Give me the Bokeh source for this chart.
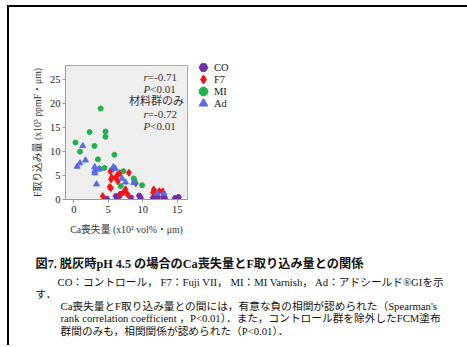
from bokeh.plotting import figure
from bokeh.models import Legend, LegendItem, Label, Range1d
from bokeh.layouts import column, row
from bokeh.embed import file_html
from bokeh.resources import INLINE

# ---------------- data ----------------
groups = ["CO", "F7", "MI", "Ad"]

co_x = [4.8, 6.1, 6.5, 6.8, 8.3, 9.5, 9.7, 11.5, 11.8, 12.2, 13.0, 13.2, 14.7, 15.2]
co_y = [0.15, 0.7, 0.6, 1.2, 0.4, 0.8, 0.3, 0.35, 0.4, 0.4, 0.55, 0.3, 0.3, 0.5]

f7_x = [4.2, 5.7, 5.3, 5.4, 5.5, 6.1, 6.3, 6.7, 8.0, 6.4, 5.2, 5.4, 6.8, 7.3, 7.5, 7.8,
        9.0, 11.6, 11.7, 12.4, 12.9, 11.5]
f7_y = [0.7, 6.4, 5.9, 4.2, 4.6, 4.5, 5.1, 5.5, 5.6, 3.8, 2.6, 2.4, 1.0, 1.6, 2.1, 1.1,
        3.4, 2.1, 1.8, 1.7, 1.7, 1.5]

mi_x = [3.9, 2.3, 4.6, 4.6, 0.25, 3.0, 0.9, 5.9, 3.5, 4.45, 3.8, 7.2, 8.7, 8.8, 9.9, 6.8]
mi_y = [19.0, 14.1, 14.2, 13.1, 11.9, 11.2, 10.0, 9.35, 8.4, 6.6, 6.4, 5.9, 4.4, 3.9, 3.0, 2.8]

ad_x = [0.5, 1.3, 0.9, 1.7, 3.05, 3.05, 3.05, 3.7, 3.3, 5.75, 6.05, 7.0, 7.5, 8.7, 12.1, 13.1]
ad_y = [6.9, 11.2, 7.6, 8.2, 6.8, 6.0, 5.5, 6.4, 3.2, 6.8, 6.4, 4.4, 3.6, 3.5, 1.3, 1.25]

x_ticks = [0, 5, 10, 15]
y_ticks = [0, 5, 10, 15, 20, 25]

stats_all = ["-0.71", "<0.01"]
stats_mat = ["-0.72", "<0.01"]

SERIF = "'Liberation Serif', 'Noto Sans CJK JP'"
JP = "'Liberation Serif', 'Noto Sans CJK JP'"

series = [
    ("CO", co_x, co_y, "hex", 5.5, "#7030A0"),
    ("F7", f7_x, f7_y, "diamond", 7, "#FF1010"),
    ("MI", mi_x, mi_y, "circle", 5, "#22B14C"),
    ("Ad", ad_x, ad_y, "triangle", 6, "#5A6BEA"),
]

# ---------------- scatter figure ----------------
p = figure(width=181, height=238, x_range=Range1d(-1.2, 16.5), y_range=Range1d(0, 28),
           output_backend="svg", toolbar_location=None, frame_align=False,
           min_border_left=56, min_border_right=3, min_border_top=58, min_border_bottom=46)
p.background_fill_color = "#EFEFEF"
p.border_fill_color = "white"
p.outline_line_color = "#AAAAAA"
p.grid.visible = False

for name, xs, ys, mk, sz, col in series:
    p.scatter(xs, ys, marker=mk, size=sz, color=col)

p.xaxis.ticker = x_ticks
p.yaxis.ticker = y_ticks
for ax in (p.xaxis[0], p.yaxis[0]):
    ax.axis_line_color = "#999999"
    ax.major_tick_line_color = "#999999"
    ax.major_tick_out = 3
    ax.major_tick_in = 0
    ax.minor_tick_out = 0
    ax.minor_tick_in = 0
    ax.major_label_text_font = SERIF
    ax.major_label_text_font_size = "10.5px"
    ax.major_label_text_color = "#222222"
    ax.axis_label_text_font = JP
    ax.axis_label_text_font_size = "9.8px"
    ax.axis_label_text_font_style = "normal"
    ax.axis_label_text_color = "#333333"
p.xaxis.major_label_standoff = 3
p.yaxis.major_label_standoff = 2
p.xaxis.axis_label = "Ca喪失量 (x10² vol%・μm)"
p.yaxis.axis_label = "F取り込み量 (x10³ ppmF・μm)"
p.xaxis.axis_label_standoff = 8
p.yaxis.axis_label_standoff = 4

def lab(x, y, text, align="left", style="normal"):
    p.add_layout(Label(x=x, y=y, text=text, text_align=align, text_baseline="middle",
                       text_font=SERIF, text_font_size="11px", text_font_style=style,
                       text_color="#333333"))

lab(10.74, 25.6, "r", "right", "italic")
lab(10.74, 25.6, "=" + stats_all[0])
lab(11.09, 23.1, "P", "right", "italic")
lab(11.09, 23.1, stats_all[1])
lab(12.0, 20.5, "材料群のみ", "center")
lab(10.74, 17.9, "r", "right", "italic")
lab(10.74, 17.9, "=" + stats_mat[0])
lab(11.09, 15.3, "P", "right", "italic")
lab(11.09, 15.3, stats_mat[1])

# ---------------- legend figure (same series, data kept out of its view) ----------------
lg = figure(width=277, height=238, x_range=Range1d(100, 200), y_range=Range1d(100, 200),
            output_backend="svg", toolbar_location=None, frame_align=False,
            x_axis_type=None, y_axis_type=None, min_border=0)
lg.grid.visible = False
lg.outline_line_color = None
lg.background_fill_color = "white"
lg.border_fill_color = "white"
for i, (name, xs, ys, mk, sz, col) in enumerate(series):
    r = lg.scatter(xs, ys, marker=mk, size=sz, color=col)
    leg = Legend(items=[LegendItem(label=name, renderers=[r])],
                 location=(2, 167 - 12 * i), orientation="vertical",
                 glyph_width=22, glyph_height=22, label_height=12, spacing=0,
                 padding=0, margin=0, label_standoff=-2,
                 border_line_color=None, background_fill_alpha=0,
                 label_text_font=SERIF, label_text_font_size="10.5px",
                 label_text_color="#222222")
    lg.add_layout(leg)

# ---------------- caption figure ----------------
cap = figure(width=458, height=100, x_range=Range1d(0, 458), y_range=Range1d(100, 0),
             output_backend="svg", toolbar_location=None, frame_align=False,
             x_axis_type=None, y_axis_type=None, min_border=0)
cap.grid.visible = False
cap.outline_line_color = None
cap.background_fill_color = "white"
cap.border_fill_color = "white"

def ctext(x, y, text, size="10.7px", style="normal"):
    cap.add_layout(Label(x=x, y=y, text=text, text_align="left", text_baseline="middle",
                         text_font=JP, text_font_size=size, text_font_style=style,
                         text_color="#111111"))

ctext(26, 18.5, "図7. 脱灰時pH 4.5 の場合のCa喪失量とF取り込み量との関係", "12.2px", "bold")
ctext(48, 36, "CO：コントロール， F7：Fuji VII， MI：MI Varnish， Ad：アドシールド®GIを示")
ctext(26, 48, "す．")
ctext(51, 60, "Ca喪失量とF取り込み量との間には，有意な負の相関が認められた（Spearman's")
ctext(51, 72, "rank correlation  coefficient ，P<0.01）．また，コントロール群を除外したFCM塗布")
ctext(51, 85, "群間のみも，相関関係が認められた（P<0.01）．")

layout = column(row(p, lg, spacing=0), cap, spacing=0,
                styles={"margin-left": "7px", "margin-top": "5px",
                        "border-left": "2px solid black", "border-top": "2px solid black"})

open("out.html", "w").write(file_html(layout, INLINE))
